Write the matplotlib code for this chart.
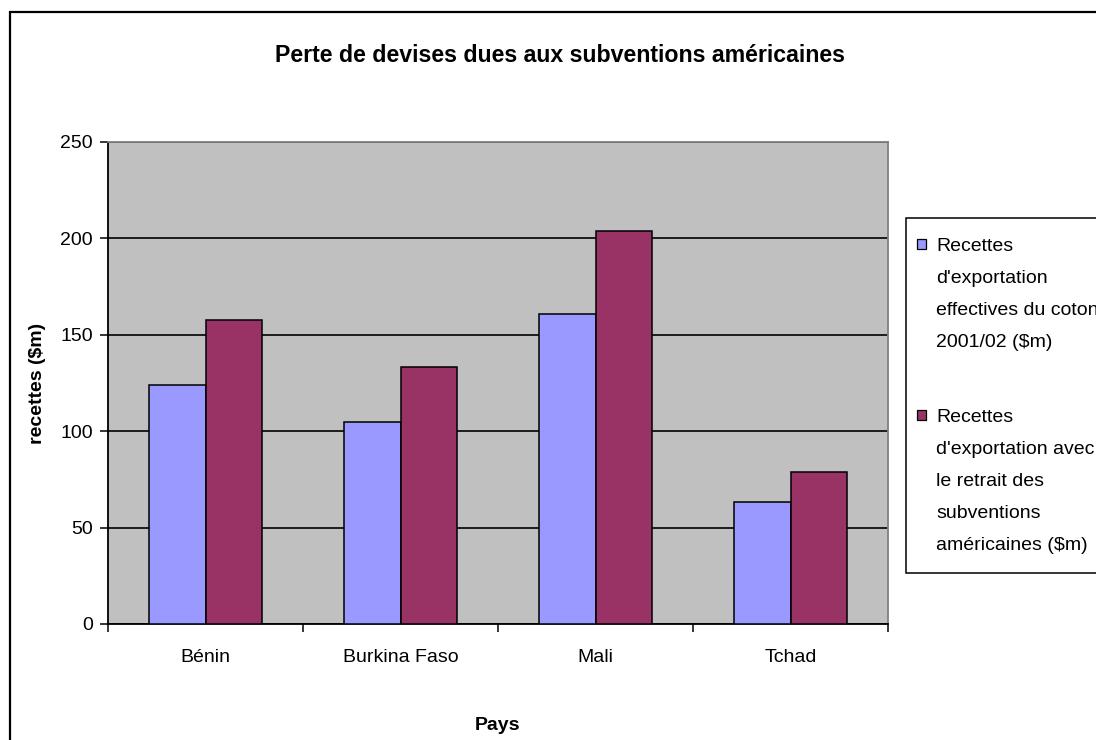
import matplotlib
matplotlib.use('Agg')
import matplotlib.pyplot as plt
import numpy as np
from matplotlib.patches import Rectangle
from matplotlib.path import Path
from matplotlib.legend_handler import HandlerPatch

plt.rcParams['font.family'] = ['Liberation Sans', 'DejaVu Sans']

pays = ['Bénin', 'Burkina Faso', 'Mali', 'Tchad']
recettes_effectives = [124, 105, 161, 63.5]
recettes_sans_subv = [157.5, 133.5, 204, 79]
labels = ["Recettes\nd'exportation\neffectives du coton\n2001/02 (\\$m)",
          "Recettes\nd'exportation avec\nle retrait des\nsubventions\naméricaines (\\$m)"]
yticks = [0, 50, 100, 150, 200, 250]

FS = 14
LS = 2.15
PITCH_PT = 33 * 0.72  # écart entre lignes de la légende
PAD_Y = 9  # marge verticale en plus dans le cadre de la légende (px)

fig = plt.figure(figsize=(10.96, 7.4), dpi=100)
ax = fig.add_axes([108 / 1096, 116 / 740, 780 / 1096, 482 / 740])
ax.set_facecolor('#C0C0C0')

x = np.arange(len(pays))
w = 0.29
b1 = ax.bar(x - w / 2, recettes_effectives, w, color='#9999FF', edgecolor='black', linewidth=1.1, zorder=3)
b2 = ax.bar(x + w / 2, recettes_sans_subv, w, color='#993366', edgecolor='black', linewidth=1.1, zorder=3)

ax.set_xlim(-0.5, len(pays) - 0.5)
ax.set_ylim(0, 250)
ax.set_yticks(yticks)
ax.set_yticklabels([str(v) for v in yticks], fontsize=FS)
ax.yaxis.grid(True, color='black', linewidth=1.2, zorder=1)
ax.set_axisbelow(True)
ax.tick_params(axis='y', direction='out', length=6, width=1.1, color='black', pad=5)

ax.set_xticks(x)
ax.set_xticklabels(pays, fontsize=FS)
ax.set_xticks(np.arange(len(pays) + 1) - 0.5, minor=True)
ax.tick_params(axis='x', which='major', length=0, pad=18)
ax.tick_params(axis='x', which='minor', direction='out', length=6, width=1.1, color='black')

for s in ['left', 'bottom']:
    ax.spines[s].set_color('black')
    ax.spines[s].set_linewidth(1.3)
for s in ['top', 'right']:
    ax.spines[s].set_color('#808080')
    ax.spines[s].set_linewidth(1.3)

fig.text(0.511, 1 - 55 / 740, 'Perte de devises dues aux subventions américaines',
         ha='center', va='center', fontsize=16.7, fontweight='bold')
fig.text(38 / 1096, 1 - 383 / 740, 'recettes (\\$m)', rotation=90, ha='center', va='center',
         fontsize=FS, fontweight='bold')
fig.text(497 / 1096, 1 - 725 / 740, 'Pays', ha='center', va='center', fontsize=FS, fontweight='bold')

# cadre du graphique
fig.patches.append(Rectangle((10 / 1096, -0.02), 1.1, 1 - 12 / 740 + 0.02, transform=fig.transFigure,
                             fill=False, edgecolor='black', linewidth=1.6))


class TopHandler(HandlerPatch):
    # place le carré au niveau de la première ligne du texte
    def __init__(self, nlines):
        super().__init__()
        self.nlines = nlines

    def create_artists(self, legend, orig_handle, xdescent, ydescent, width, height, fontsize, trans):
        off = (self.nlines - 1) / 2 * PITCH_PT
        size = 0.5 * fontsize
        p = Rectangle((-xdescent, -ydescent + height / 2 - size / 2 + off), size, size,
                      facecolor=orig_handle.get_facecolor(), edgecolor='black', linewidth=0.9,
                      transform=trans)
        return [p]


def tall_box(x0, y0, width, height, mutation_size):
    return Path([(x0, y0 - PAD_Y), (x0 + width, y0 - PAD_Y), (x0 + width, y0 + height + PAD_Y),
                 (x0, y0 + height + PAD_Y), (x0, y0 - PAD_Y)], closed=True)


hpatches = [b1.patches[0], b2.patches[0]]
hmap = {hp: TopHandler(lab.count('\n') + 1) for hp, lab in zip(hpatches, labels)}
leg = fig.legend(hpatches, labels, loc='upper left',
                 bbox_to_anchor=(906 / 1096, 1 - (218 + PAD_Y) / 740),
                 borderaxespad=0, frameon=True, fancybox=False, framealpha=1, edgecolor='black',
                 prop={'size': FS}, handlelength=0.5, handletextpad=0.5, borderpad=0.55,
                 labelspacing=3.0, handler_map=hmap)
leg.get_frame().set_linewidth(1.1)
leg.get_frame().set_boxstyle(tall_box)
for t in leg.get_texts():
    t.set_linespacing(LS)

fig.savefig('out.png', dpi=100)
